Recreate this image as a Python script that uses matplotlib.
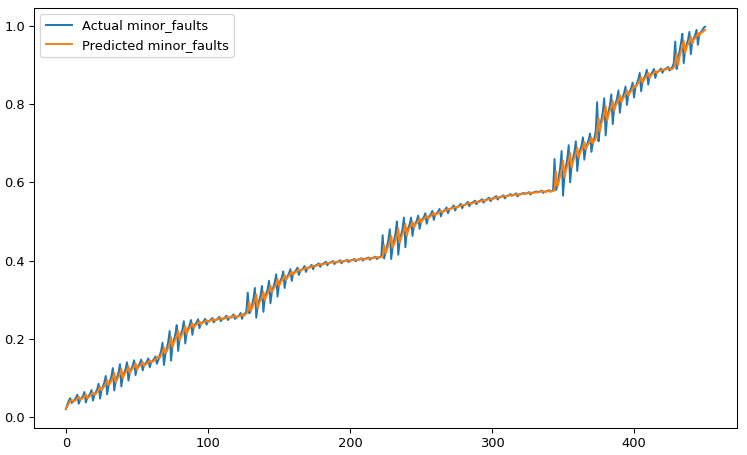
import numpy as np
import matplotlib
matplotlib.use("Agg")
import matplotlib.pyplot as plt

# values (roughly five samples per group)
actual = [
    0.020, 0.032, 0.042, 0.048, 0.036,  0.039, 0.044, 0.049, 0.057, 0.034,
    0.043, 0.049, 0.054, 0.064, 0.037,  0.048, 0.054, 0.059, 0.069, 0.042,
    0.055, 0.063, 0.071, 0.085, 0.047,  0.068, 0.078, 0.088, 0.105, 0.058,
    0.080, 0.092, 0.104, 0.125, 0.068,  0.090, 0.102, 0.114, 0.135, 0.078,
    0.103, 0.113, 0.123, 0.140, 0.093,  0.115, 0.123, 0.131, 0.145, 0.107,
    0.125, 0.131, 0.137, 0.147, 0.119,  0.132, 0.137, 0.142, 0.150, 0.127,
    0.140, 0.144, 0.148, 0.155, 0.136,  0.145, 0.157, 0.169, 0.190, 0.133,
    0.160, 0.176, 0.192, 0.220, 0.144,  0.183, 0.197, 0.211, 0.235, 0.169,
    0.200, 0.212, 0.224, 0.245, 0.188,  0.218, 0.226, 0.234, 0.248, 0.210,
    0.232, 0.237, 0.242, 0.250, 0.227,  0.239, 0.242, 0.245, 0.251, 0.236,
    0.244, 0.246, 0.249, 0.253, 0.242,  0.247, 0.249, 0.252, 0.256, 0.245,
    0.250, 0.252, 0.255, 0.259, 0.248,  0.253, 0.255, 0.258, 0.262, 0.251,
    0.254, 0.257, 0.260, 0.266, 0.251,  0.262, 0.264, 0.270, 0.318, 0.265,
    0.270, 0.286, 0.302, 0.330, 0.254,  0.283, 0.297, 0.311, 0.335, 0.269,
    0.303, 0.315, 0.327, 0.348, 0.291,  0.320, 0.332, 0.344, 0.365, 0.308,
    0.339, 0.348, 0.357, 0.372, 0.330,  0.354, 0.360, 0.367, 0.378, 0.348,
    0.367, 0.371, 0.375, 0.382, 0.363,  0.374, 0.377, 0.380, 0.386, 0.371,
    0.380, 0.382, 0.385, 0.389, 0.378,  0.386, 0.388, 0.390, 0.393, 0.384,
    0.390, 0.392, 0.394, 0.397, 0.388,  0.393, 0.395, 0.396, 0.399, 0.391,
    0.395, 0.397, 0.398, 0.401, 0.393,  0.398, 0.399, 0.400, 0.402, 0.396,
    0.400, 0.401, 0.402, 0.404, 0.398,  0.402, 0.403, 0.404, 0.406, 0.400,
    0.404, 0.405, 0.406, 0.408, 0.402,  0.406, 0.407, 0.408, 0.410, 0.404,
    0.408, 0.409, 0.410, 0.465, 0.405,  0.420, 0.436, 0.452, 0.480, 0.404,
    0.433, 0.451, 0.469, 0.500, 0.415,  0.450, 0.466, 0.482, 0.510, 0.434,
    0.473, 0.483, 0.493, 0.510, 0.463,  0.488, 0.495, 0.502, 0.515, 0.481,
    0.500, 0.506, 0.511, 0.521, 0.494,  0.509, 0.514, 0.519, 0.527, 0.504,
    0.517, 0.521, 0.525, 0.532, 0.513,  0.524, 0.527, 0.530, 0.536, 0.521,
    0.531, 0.533, 0.536, 0.541, 0.528,  0.536, 0.538, 0.541, 0.545, 0.534,
    0.541, 0.543, 0.546, 0.550, 0.539,  0.546, 0.548, 0.550, 0.553, 0.544,
    0.550, 0.552, 0.554, 0.557, 0.548,  0.554, 0.556, 0.558, 0.561, 0.552,
    0.558, 0.560, 0.562, 0.565, 0.556,  0.561, 0.563, 0.564, 0.567, 0.559,
    0.564, 0.566, 0.567, 0.570,         0.566, 0.568, 0.569, 0.572, 0.564,
    0.569, 0.570, 0.571, 0.573,         0.571, 0.572, 0.573, 0.575, 0.569,
    0.573, 0.574, 0.575, 0.577,         0.575, 0.576, 0.577, 0.579, 0.573,
    0.576, 0.577, 0.578, 0.580,         0.577, 0.578, 0.579, 0.660, 0.580,
    0.590, 0.614, 0.638, 0.680, 0.566,  0.615, 0.640, 0.660, 0.695, 0.600,
    0.640, 0.661, 0.677, 0.705, 0.629,  0.665, 0.682, 0.694, 0.715, 0.658,
    0.685, 0.698, 0.708, 0.725, 0.678,  0.700, 0.712, 0.730, 0.805, 0.705,
    0.740, 0.760, 0.780, 0.815, 0.720,  0.765, 0.781, 0.797, 0.825, 0.749,
    0.790, 0.802, 0.814, 0.835, 0.778,  0.808, 0.818, 0.828, 0.845, 0.798,
    0.825, 0.833, 0.841, 0.855, 0.817,  0.843, 0.853, 0.863, 0.880, 0.833,
    0.858, 0.866, 0.874, 0.888, 0.850,  0.872, 0.877, 0.882, 0.890, 0.867,
    0.882, 0.884, 0.887, 0.891, 0.880,  0.888, 0.890, 0.892, 0.895, 0.886,
    0.890, 0.895, 0.905, 0.960, 0.890,  0.915, 0.935, 0.955, 0.980, 0.905,
    0.940, 0.952, 0.964, 0.985, 0.928,  0.960, 0.968, 0.976, 0.990, 0.952,
    0.980, 0.984, 0.988, 0.995, 0.998,
]

predicted = [
    0.022, 0.027, 0.035, 0.041, 0.044,  0.039, 0.041, 0.044, 0.047, 0.052,
    0.044, 0.046, 0.049, 0.053, 0.058,  0.047, 0.051, 0.054, 0.058, 0.063,
    0.057, 0.059, 0.064, 0.069, 0.077,  0.069, 0.073, 0.079, 0.085, 0.095,
    0.082, 0.086, 0.093, 0.100, 0.113,  0.089, 0.096, 0.103, 0.110, 0.123,
    0.099, 0.108, 0.114, 0.120, 0.130,  0.112, 0.119, 0.124, 0.129, 0.137,
    0.121, 0.128, 0.131, 0.135, 0.141,  0.130, 0.134, 0.137, 0.140, 0.145,
    0.139, 0.142, 0.144, 0.147, 0.151,  0.155, 0.151, 0.158, 0.165, 0.178,
    0.164, 0.168, 0.178, 0.187, 0.204,  0.178, 0.190, 0.198, 0.206, 0.221,
    0.196, 0.206, 0.213, 0.220, 0.233,  0.212, 0.222, 0.227, 0.232, 0.240,
    0.227, 0.234, 0.237, 0.240, 0.245,  0.236, 0.241, 0.243, 0.244, 0.248,
    0.243, 0.245, 0.247, 0.248, 0.251,  0.247, 0.248, 0.250, 0.251, 0.254,
    0.250, 0.251, 0.253, 0.254, 0.257,  0.253, 0.254, 0.256, 0.257, 0.260,
    0.255, 0.256, 0.258, 0.259, 0.263,  0.258, 0.262, 0.264, 0.270, 0.295,
    0.272, 0.278, 0.288, 0.297, 0.314,  0.278, 0.290, 0.298, 0.306, 0.321,
    0.299, 0.309, 0.316, 0.323, 0.336,  0.319, 0.326, 0.333, 0.340, 0.353,
    0.334, 0.343, 0.349, 0.354, 0.363,  0.350, 0.357, 0.361, 0.365, 0.372,
    0.363, 0.369, 0.371, 0.374, 0.378,  0.373, 0.376, 0.378, 0.379, 0.383,
    0.379, 0.381, 0.383, 0.384, 0.387,  0.385, 0.386, 0.388, 0.389, 0.391,
    0.389, 0.390, 0.392, 0.393, 0.395,  0.392, 0.394, 0.395, 0.396, 0.397,
    0.395, 0.396, 0.397, 0.398, 0.399,  0.397, 0.398, 0.399, 0.400, 0.401,
    0.399, 0.400, 0.401, 0.402, 0.403,  0.401, 0.402, 0.403, 0.404, 0.405,
    0.403, 0.404, 0.405, 0.406, 0.407,  0.405, 0.406, 0.407, 0.408, 0.409,
    0.407, 0.408, 0.409, 0.410, 0.440,  0.418, 0.428, 0.438, 0.447, 0.464,
    0.433, 0.442, 0.452, 0.463, 0.482,  0.446, 0.458, 0.468, 0.477, 0.494,
    0.463, 0.478, 0.484, 0.490, 0.500,  0.484, 0.492, 0.496, 0.500, 0.508,
    0.497, 0.503, 0.506, 0.510, 0.515,  0.507, 0.511, 0.514, 0.517, 0.522,
    0.516, 0.519, 0.521, 0.524, 0.528,  0.523, 0.526, 0.528, 0.529, 0.533,
    0.530, 0.532, 0.534, 0.535, 0.538,  0.535, 0.537, 0.539, 0.540, 0.543,
    0.541, 0.542, 0.544, 0.545, 0.548,  0.545, 0.546, 0.548, 0.549, 0.551,
    0.549, 0.550, 0.552, 0.553, 0.555,  0.553, 0.554, 0.556, 0.557, 0.559,
    0.557, 0.558, 0.560, 0.561, 0.563,  0.560, 0.562, 0.563, 0.564, 0.565,
    0.564, 0.565, 0.566, 0.567,         0.566, 0.567, 0.568, 0.569, 0.570,
    0.568, 0.569, 0.570, 0.571,         0.570, 0.571, 0.572, 0.573, 0.574,
    0.572, 0.573, 0.574, 0.575,         0.574, 0.575, 0.576, 0.577, 0.578,
    0.575, 0.576, 0.577, 0.578,         0.576, 0.577, 0.578, 0.579, 0.628,
    0.590, 0.602, 0.616, 0.631, 0.656,  0.613, 0.630, 0.642, 0.654, 0.675,
    0.638, 0.653, 0.663, 0.672, 0.689,  0.663, 0.676, 0.683, 0.690, 0.703,
    0.684, 0.693, 0.699, 0.705, 0.715,  0.700, 0.706, 0.712, 0.728, 0.765,
    0.730, 0.750, 0.762, 0.774, 0.795,  0.758, 0.773, 0.783, 0.792, 0.809,
    0.783, 0.796, 0.803, 0.810, 0.823,  0.804, 0.813, 0.819, 0.825, 0.835,
    0.822, 0.829, 0.834, 0.839, 0.847,  0.844, 0.848, 0.854, 0.860, 0.870,
    0.855, 0.862, 0.867, 0.872, 0.880,  0.867, 0.874, 0.877, 0.880, 0.885,
    0.879, 0.883, 0.885, 0.886, 0.889,  0.887, 0.888, 0.890, 0.891, 0.893,
    0.889, 0.890, 0.894, 0.902, 0.930,  0.900, 0.920, 0.935, 0.946, 0.962,
    0.931, 0.946, 0.953, 0.960, 0.973,  0.954, 0.964, 0.969, 0.974, 0.982,
    0.974, 0.982, 0.984, 0.986, 0.990,
]

x = np.arange(len(actual))

dpi = 93.4
fig = plt.figure(figsize=(747 / dpi, 455 / dpi), dpi=dpi)
ax = fig.add_axes([34 / 747, 1 - 428.3 / 455, (737 - 34) / 747, (428.3 - 7.6) / 455])
ax.plot(x, actual, label="Actual minor_faults")
ax.plot(x, predicted, label="Predicted minor_faults")
ax.legend(loc="upper left")
fig.savefig("out.png", dpi=dpi)
